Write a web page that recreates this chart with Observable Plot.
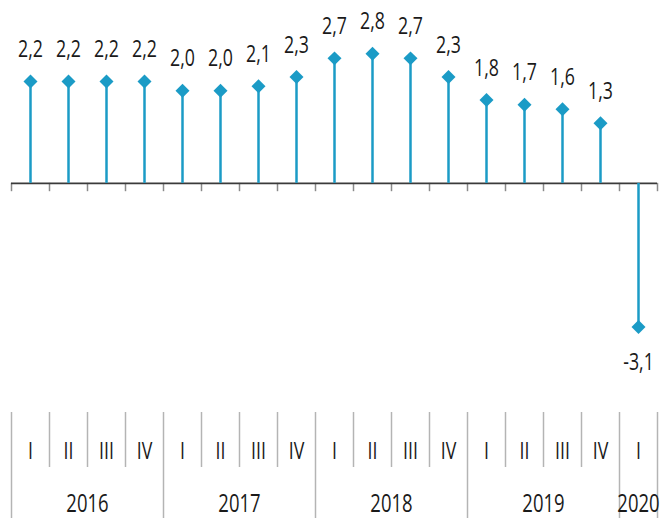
<!DOCTYPE html>
<html>
<head>
<meta charset="utf-8">
<script src="https://cdn.jsdelivr.net/npm/d3@7"></script>
<script src="https://cdn.jsdelivr.net/npm/@observablehq/plot@0.6"></script>
<style>
  html, body { margin: 0; padding: 0; background: #fff; }
  #chart svg { display: block; }
</style>
</head>
<body>
<div id="chart"></div>
<script>
// ---- data ----
const quarters = ["I","II","III","IV","I","II","III","IV","I","II","III","IV","I","II","III","IV","I"];
const years    = [2016,2016,2016,2016,2017,2017,2017,2017,2018,2018,2018,2018,2019,2019,2019,2019,2020];
const values   = [2.2,2.2,2.2,2.2,2.0,2.0,2.1,2.3,2.7,2.8,2.7,2.3,1.8,1.7,1.6,1.3,-3.1];

const data = values.map((v, i) => ({i, q: quarters[i], year: years[i], v}));
const n = data.length;

const edges = d3.range(n + 1).map(k => k - 0.5);
const yearEdges = edges.filter(e => e === -0.5 || e === n - 0.5 || years[e - 0.5] !== years[e + 0.5]);
const quarterEdges = edges.filter(e => !yearEdges.includes(e));
const yearLabels = Array.from(d3.rollup(data, g => d3.mean(g, d => d.i), d => d.year), ([year, x]) => ({year, x}));

const fmt = v => v.toFixed(1).replace(".", ",");
const blue = "#1b9bc6";
const font = "Open Sans, Liberation Sans, sans-serif";

const W = 664, ML = 11, MR = 7;
const xScale = {type: "linear", domain: [-0.5, n - 0.5], axis: null};

const main = Plot.plot({
  width: W, height: 400,
  marginLeft: ML, marginRight: MR, marginTop: 0, marginBottom: 0,
  x: xScale,
  y: {domain: [-4.69, 3.95], axis: null},
  style: {fontFamily: font, background: "#fff"},
  marks: [
    Plot.ruleX(edges, {x: d => d, y1: 0, y2: -0.18, stroke: "#8a8a8a", strokeWidth: 1.5}),
    Plot.ruleY([0], {stroke: "#3a3a3a", strokeWidth: 1.8}),
    Plot.ruleX(data, {x: "i", y1: 0, y2: "v", stroke: blue, strokeWidth: 2.5}),
    Plot.dot(data, {x: "i", y: "v", symbol: "diamond2", r: 6.3, fill: blue, stroke: "none"}),
    Plot.text(data.filter(d => d.v >= 0), {x: "i", y: "v", text: d => fmt(d.v), dy: -32, fontSize: 24, fill: "#1a1a1a", className: "cond"}),
    Plot.text(data.filter(d => d.v < 0), {x: "i", y: "v", text: d => fmt(d.v), dy: 35, fontSize: 24, fill: "#1a1a1a", className: "cond"})
  ]
});

const axis = Plot.plot({
  width: W, height: 118,
  marginLeft: ML, marginRight: MR, marginTop: 12, marginBottom: 0,
  x: xScale,
  style: {fontFamily: font, background: "#fff"},
  marks: [
    Plot.ruleX(yearEdges, {x: d => d, stroke: "#b4b4b4", strokeWidth: 1.5}),
    Plot.ruleX(quarterEdges, {x: d => d, stroke: "#b4b4b4", strokeWidth: 1.5, insetBottom: 51}),
    Plot.text(data, {x: "i", text: "q", frameAnchor: "top", lineAnchor: "middle", dy: 39, fontSize: 24, fill: "#1a1a1a", className: "cond"}),
    Plot.text(yearLabels, {x: "x", text: d => String(d.year), frameAnchor: "top", lineAnchor: "middle", dy: 91.5, fontSize: 25, fill: "#1a1a1a", className: "cond"})
  ]
});

document.getElementById("chart").append(main, axis);
// condense the label glyphs horizontally around each label's anchor (text-anchor is middle)
document.querySelectorAll("#chart g.cond text").forEach(t => {
  const tr = t.getAttribute("transform") || "";
  t.setAttribute("transform", `${tr} scale(0.74,1)`);
});
</script>
</body>
</html>
